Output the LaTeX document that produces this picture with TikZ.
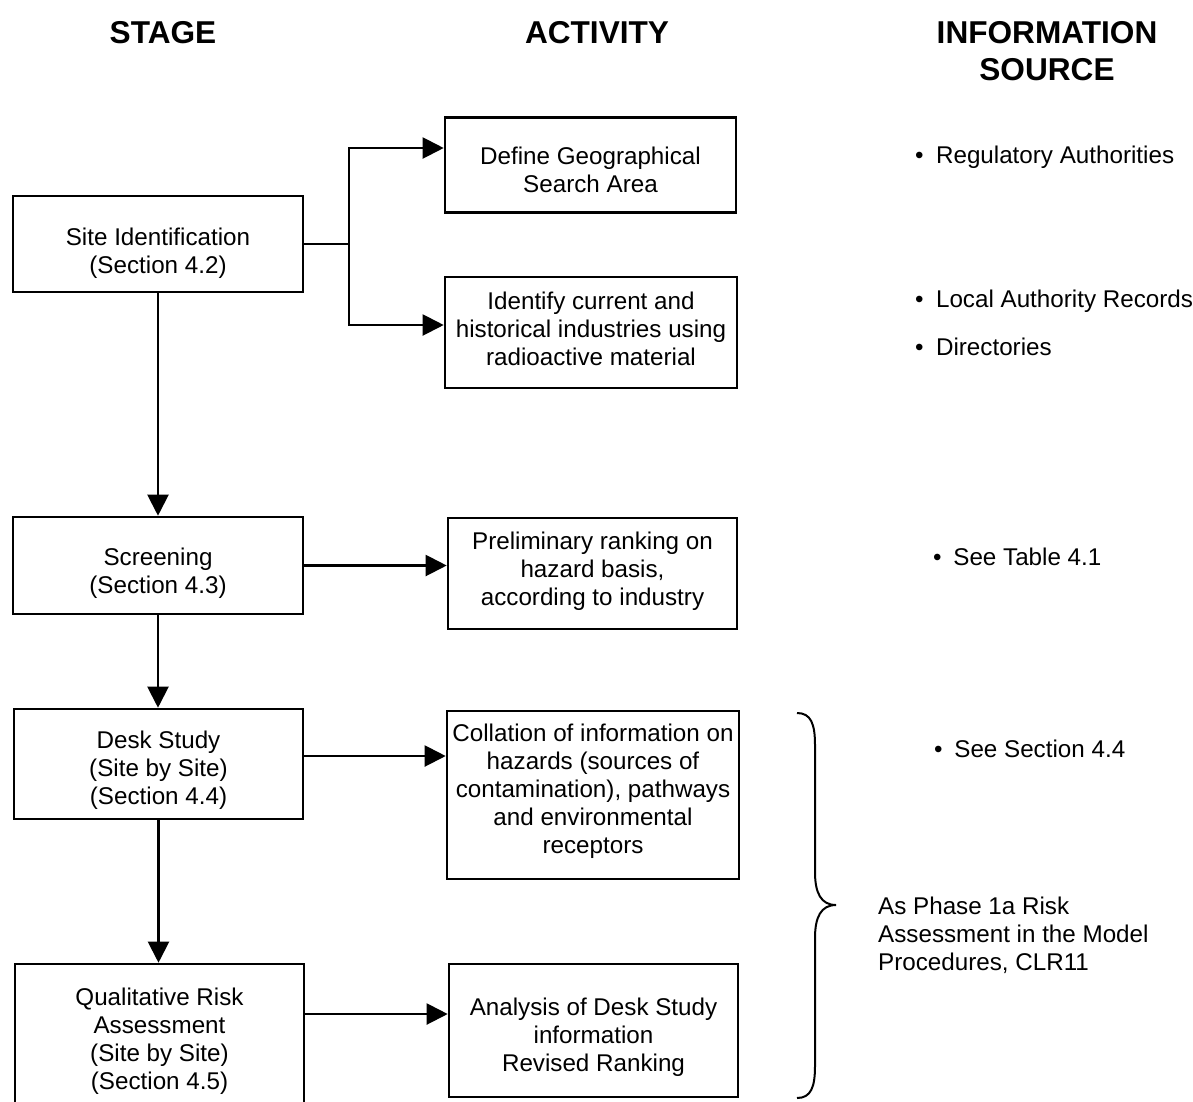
\documentclass[tikz,border=0pt]{standalone}
\usepackage{fontspec}
\setmainfont{Liberation Sans}
\usetikzlibrary{arrows.meta}

\newcommand\bodyfont{\fontsize{24.2}{28}\selectfont}
\newcommand\headfont{\fontsize{31.6}{37}\selectfont\bfseries}
\newcommand\bul[1]{•\hspace{#1}}

\begin{document}
\begin{tikzpicture}[x=1pt,y=-1pt,
  stagebox/.style={draw, line width=2.6pt, inner sep=0pt},
  boxtext/.style={inner sep=0pt, align=center, font=\bodyfont},
  link/.style={line width=2.1pt},
  arr/.style={line width=2.1pt, -{Triangle[length=21pt,width=21pt]}},
  head/.style={align=center, font=\headfont, inner sep=0pt},
  info/.style={inner sep=0pt, font=\bodyfont, align=left}]

  % page frame
  \clip (0,0) rectangle (1193,1101);

  % column headings
  \node[head] (hstage) at (163,33) {STAGE};
  \node[head] (hact)   at (597,33) {ACTIVITY};
  \node[head] (hinfo)  at (1047,51) {INFORMATION\\SOURCE};

  % stage column
  \node[stagebox, minimum width=290pt, minimum height=96pt]  (site)   at (158,244)    {};
  \node[stagebox, minimum width=290pt, minimum height=97pt]  (screen) at (158,565.5)  {};
  \node[stagebox, minimum width=289pt, minimum height=110pt] (desk)   at (158.5,764)  {};
  \node[stagebox, minimum width=289pt, minimum height=152pt] (qual)   at (159.5,1040) {};

  \node[boxtext] (site-t)   at ([yshift=-9pt]site.center)   {Site Identification\\(Section 4.2)};
  \node[boxtext] (screen-t) at ([yshift=-8pt]screen.center) {Screening\\(Section 4.3)};
  \node[boxtext] (desk-t)   at ([yshift=-6.5pt]desk.center) {Desk Study\\(Site by Site)\\(Section 4.4)};
  \node[boxtext] (qual-t)   at ([yshift=-1.5pt]qual.center) {Qualitative Risk\\Assessment\\(Site by Site)\\(Section 4.5)};

  % activity column
  \node[stagebox, minimum width=291pt, minimum height=95pt]  (define) at (590.5,165)    {};
  \node[stagebox, minimum width=292pt, minimum height=111pt] (ident)  at (591,332.5)    {};
  \node[stagebox, minimum width=289pt, minimum height=111pt] (prelim) at (592.5,573.5)  {};
  \node[stagebox, minimum width=292pt, minimum height=168pt] (collat) at (593,795)      {};
  \node[stagebox, minimum width=289pt, minimum height=133pt] (analys) at (593.5,1030.5) {};

  \node[boxtext] (define-t) at ([yshift=-5pt]define.center)  {Define Geographical\\Search Area};
  \node[boxtext] (ident-t)  at ([yshift=4pt]ident.center)    {Identify current and\\historical industries using\\radioactive material};
  \node[boxtext] (prelim-t) at ([yshift=2.5pt]prelim.center) {Preliminary ranking on\\hazard basis,\\according to industry};
  \node[boxtext] (collat-t) at ([yshift=4pt]collat.center)   {Collation of information on\\hazards (sources of\\contamination), pathways\\and environmental\\receptors};
  \node[boxtext] (analys-t) at ([yshift=-7pt]analys.center)  {Analysis of Desk Study\\information\\Revised Ranking};

  % information sources
  \node[info, anchor=base west] (src1) at (915,163) {\bul{12.4pt}Regulatory Authorities};
  \node[info, anchor=base west] (src2) at (915,307) {\bul{12.4pt}Local Authority Records};
  \node[info, anchor=base west] (src3) at (915,355) {\bul{12.4pt}Directories};
  \node[info, anchor=base west] (src4) at (933,565) {\bul{11.7pt}See Table 4.1};
  \node[info, anchor=base west] (src5) at (934,757) {\bul{11.7pt}See Section 4.4};
  \node[info, anchor=north west] (phase) at (878,897) {As Phase 1a Risk\\Assessment in the Model\\Procedures, CLR11};

  % branching from site identification
  \coordinate (fork) at (349,244);
  \draw[link] (site.east) -- (fork);
  \draw[arr] (fork) |- ([yshift=17pt]define.west);
  \draw[arr] (fork) |- ([yshift=7.5pt]ident.west);

  % stage sequence
  \draw[arr] (site.south) -- (site.south |- screen.north);
  \draw[arr] (screen.south) -- (screen.south |- desk.north);
  \draw[arr] (desk.south) -- (desk.south |- qual.north);

  % stage to activity
  \draw[arr] (screen.east) -- (screen.east -| prelim.west);
  \draw[arr] ([yshift=8pt]desk.east) coordinate (dk) -- (dk -| collat.west);
  \draw[arr] ([yshift=26pt]qual.east) coordinate (qk) -- (qk -| analys.west);

  % brace grouping desk study and qualitative assessment
  \coordinate (btop) at (797,713);
  \coordinate (btip) at (836,905);
  \coordinate (bbot) at (797,1098);
  \draw[link, line width=2pt] (btop) .. controls (811,713) and (815,724) .. (815,745)
    -- (815,872) .. controls (815,893) and (821,905) .. (btip)
    .. controls (821,905) and (815,917) .. (815,938)
    -- (815,1066) .. controls (815,1087) and (811,1098) .. (bbot);
\end{tikzpicture}
\end{document}
